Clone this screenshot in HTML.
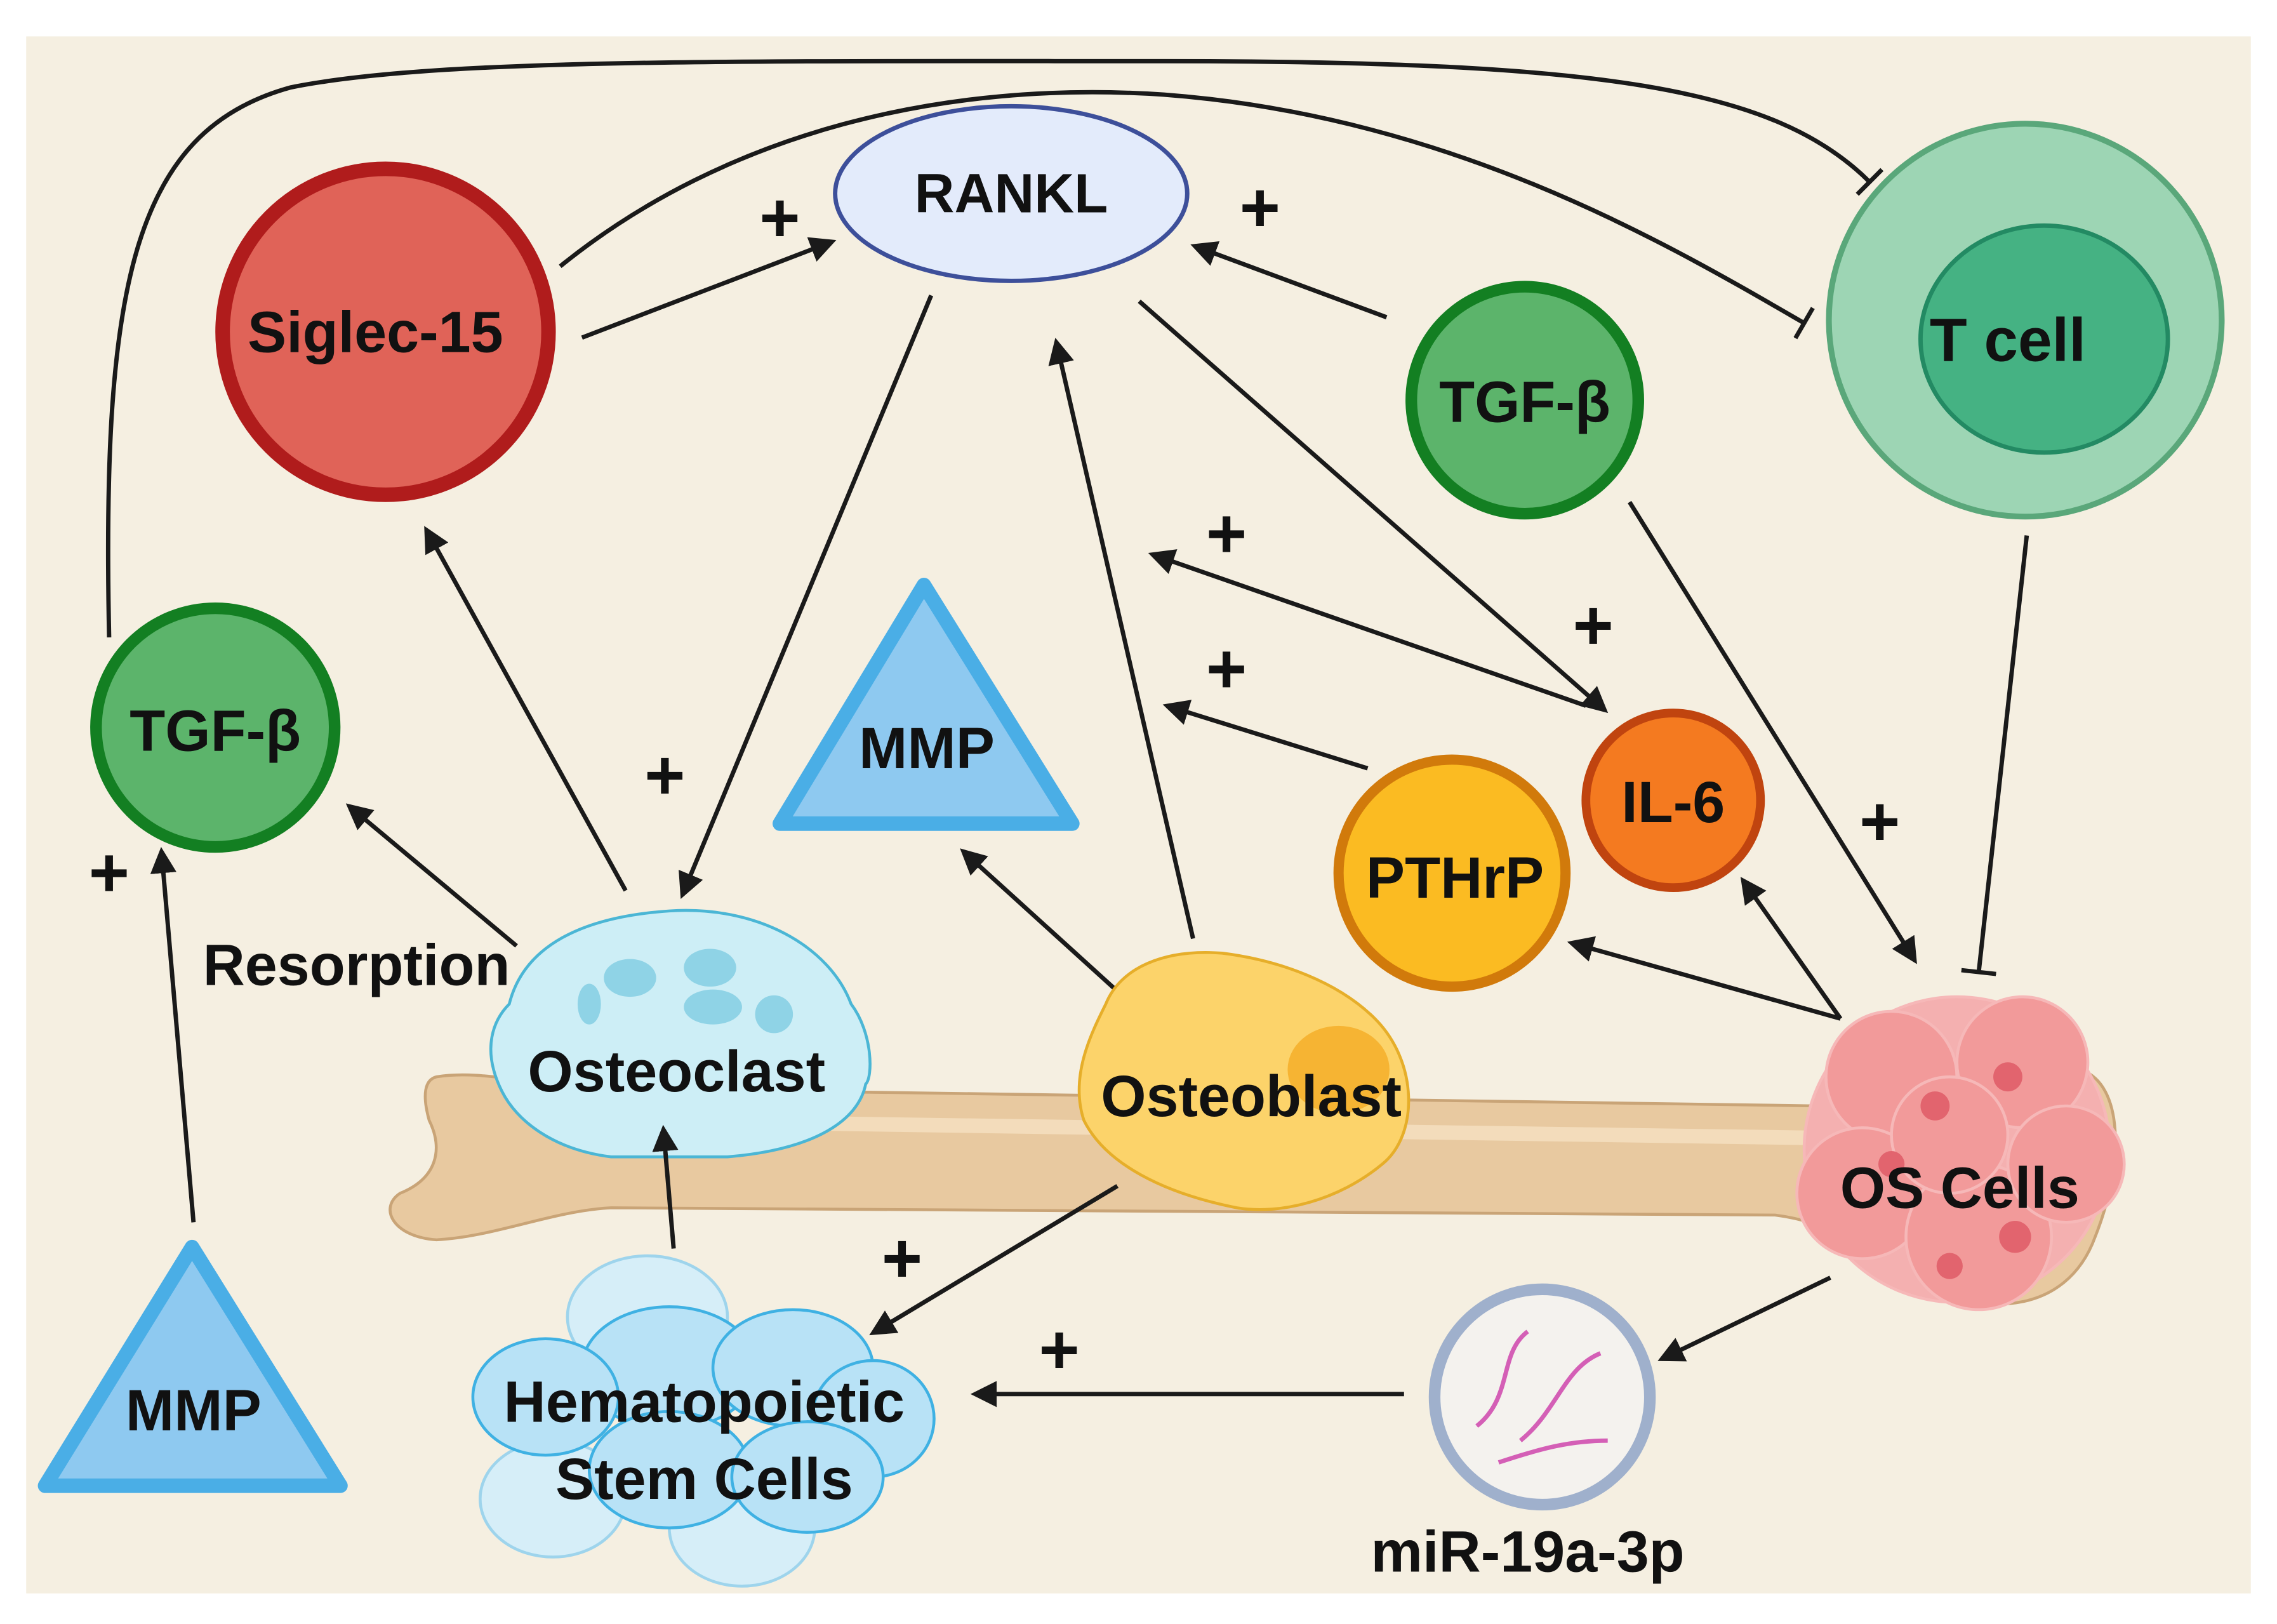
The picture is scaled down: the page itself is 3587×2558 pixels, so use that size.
<!DOCTYPE html>
<html><head><meta charset="utf-8"><style>
html,body{margin:0;padding:0;background:#fff}
svg{display:block}
text{font-family:"Liberation Sans",sans-serif;font-weight:bold;fill:#111}
</style></head><body>
<svg width="3587" height="2558" viewBox="0 0 1565 1116" xmlns="http://www.w3.org/2000/svg">
<defs>
<marker id="ah" markerWidth="6" markerHeight="6" refX="5" refY="3" orient="auto" markerUnits="strokeWidth">
<path d="M0,0 L6,3 L0,6 z" fill="#1a1a1a"/></marker>
<marker id="tee" markerWidth="2" markerHeight="8" refX="1" refY="4" orient="auto" markerUnits="strokeWidth">
<path d="M1,0 L1,8" stroke="#1a1a1a" stroke-width="1"/></marker>
</defs>
<rect x="0" y="0" width="1565" height="1116" fill="#fff"/>
<rect x="18" y="25" width="1529" height="1070" fill="#f5efe1"/>

<!-- bone -->
<path d="M300,740 C330,735 360,745 420,748 L1250,760 C1300,755 1380,730 1430,735 C1460,745 1460,800 1440,850 C1420,905 1360,905 1320,880 C1290,860 1260,840 1220,835 L420,830 C380,832 340,850 300,852 C270,850 260,830 275,820 C300,810 305,790 295,770 C290,752 292,742 300,740 Z" fill="#e8c9a0" stroke="#c9a477" stroke-width="2"/>
<path d="M420,770 L1250,782" stroke="#f3dcbb" stroke-width="10" fill="none"/>

<!-- connectors -->
<g stroke="#1a1a1a" stroke-width="3" fill="none">
<path d="M75,438 C70,200 90,90 200,60 C300,40 500,42 800,42 C1100,42 1220,60 1285,125" marker-end="url(#tee)"/>
<path d="M385,183 C500,90 650,55 800,65 C1000,80 1150,170 1240,222" marker-end="url(#tee)"/>
<line x1="400" y1="232" x2="572" y2="166" marker-end="url(#ah)"/>
<line x1="953" y1="218" x2="821" y2="169" marker-end="url(#ah)"/>
<line x1="640" y1="203" x2="469" y2="615" marker-end="url(#ah)"/>
<line x1="783" y1="207" x2="1103" y2="488" marker-end="url(#ah)"/>
<line x1="820" y1="645" x2="726" y2="235" marker-end="url(#ah)"/>
<line x1="1090" y1="485" x2="792" y2="381" marker-end="url(#ah)"/>
<line x1="940" y1="528" x2="802" y2="485" marker-end="url(#ah)"/>
<line x1="1120" y1="345" x2="1316" y2="660" marker-end="url(#ah)"/>
<line x1="1393" y1="368" x2="1360" y2="668" marker-end="url(#tee)"/>
<line x1="1265" y1="700" x2="1080" y2="648" marker-end="url(#ah)"/>
<line x1="1265" y1="700" x2="1198" y2="605" marker-end="url(#ah)"/>
<line x1="430" y1="612" x2="293" y2="364" marker-end="url(#ah)"/>
<line x1="355" y1="650" x2="240" y2="554" marker-end="url(#ah)"/>
<line x1="770" y1="683" x2="662" y2="585" marker-end="url(#ah)"/>
<line x1="133" y1="840" x2="111" y2="585" marker-end="url(#ah)"/>
<line x1="768" y1="815" x2="600" y2="916" marker-end="url(#ah)"/>
<line x1="1258" y1="878" x2="1142" y2="934" marker-end="url(#ah)"/>
<line x1="965" y1="958" x2="670" y2="958" marker-end="url(#ah)"/>
</g>

<!-- RANKL -->
<ellipse cx="695" cy="133" rx="121" ry="60" fill="#e3ebfb" stroke="#3d4f9a" stroke-width="3"/>
<text x="695" y="146" font-size="38" text-anchor="middle">RANKL</text>
<!-- Siglec -->
<circle cx="265" cy="228" r="112" fill="#e06358" stroke="#b01c1c" stroke-width="10"/>
<text x="258" y="242" font-size="40" text-anchor="middle">Siglec-15</text>
<!-- TGF right -->
<circle cx="1048" cy="275" r="78" fill="#5cb46b" stroke="#137f22" stroke-width="8"/>
<text x="1048" y="290" font-size="40" text-anchor="middle">TGF-β</text>
<!-- T cell -->
<circle cx="1392" cy="220" r="135" fill="#9dd5b4" stroke="#5aa77a" stroke-width="4"/>
<ellipse cx="1405" cy="233" rx="85" ry="78" fill="#45b283" stroke="#238a63" stroke-width="3"/>
<text x="1380" y="248" font-size="42" text-anchor="middle">T cell</text>
<!-- TGF left -->
<circle cx="148" cy="500" r="82" fill="#5cb46b" stroke="#137f22" stroke-width="8"/>
<text x="148" y="516" font-size="40" text-anchor="middle">TGF-β</text>
<!-- MMP mid -->
<path d="M635,402 L536,566 L737,566 Z" fill="#8ec9f0" stroke="#4aaee6" stroke-width="10" stroke-linejoin="round"/>
<text x="637" y="528" font-size="40" text-anchor="middle">MMP</text>
<!-- MMP bottom -->
<path d="M132,857 L31,1021 L234,1021 Z" fill="#8ec9f0" stroke="#4aaee6" stroke-width="10" stroke-linejoin="round"/>
<text x="133" y="983" font-size="40" text-anchor="middle">MMP</text>
<!-- PTHrP -->
<circle cx="998" cy="600" r="78" fill="#fbbb22" stroke="#d17a0b" stroke-width="7"/>
<text x="1000" y="617" font-size="40" text-anchor="middle">PTHrP</text>
<!-- IL-6 -->
<circle cx="1150" cy="550" r="60" fill="#f47a20" stroke="#c0440f" stroke-width="6"/>
<text x="1150" y="565" font-size="40" text-anchor="middle">IL-6</text>

<!-- Osteoclast -->
<path d="M350,690 C360,650 400,630 460,626 C520,622 570,650 585,690 C600,710 600,740 595,745 C590,770 560,790 500,795 L420,795 C380,790 355,770 345,750 C330,720 340,700 350,690 Z" fill="#cdeef6" stroke="#4bb6d5" stroke-width="2"/>
<ellipse cx="433" cy="672" rx="18" ry="13" fill="#8fd3e6"/>
<ellipse cx="488" cy="665" rx="18" ry="13" fill="#8fd3e6"/>
<ellipse cx="490" cy="692" rx="20" ry="12" fill="#8fd3e6"/>
<ellipse cx="532" cy="697" rx="13" ry="13" fill="#8fd3e6"/>
<ellipse cx="405" cy="690" rx="8" ry="14" fill="#8fd3e6"/>
<text x="465" y="750" font-size="40" text-anchor="middle">Osteoclast</text>

<!-- Osteoblast -->
<path d="M760,690 C770,665 800,652 840,655 C880,660 920,675 945,700 C975,730 975,780 950,800 C920,825 880,835 850,830 C800,820 760,800 745,770 C735,740 750,710 760,690 Z" fill="#fcd36a" stroke="#e6ae2a" stroke-width="2"/>
<ellipse cx="920" cy="735" rx="35" ry="30" fill="#f6b433"/>
<text x="860" y="767" font-size="40" text-anchor="middle">Osteoblast</text>

<!-- OS cells -->
<g fill="#f29a9a" stroke="#f6b8b8" stroke-width="2">
<circle cx="1345" cy="790" r="105" fill="#f4b0b0"/>
<circle cx="1300" cy="740" r="45"/><circle cx="1390" cy="730" r="45"/>
<circle cx="1280" cy="820" r="45"/><circle cx="1360" cy="850" r="50"/>
<circle cx="1420" cy="800" r="40"/><circle cx="1340" cy="780" r="40"/>
</g>
<g fill="#e2646e"><circle cx="1330" cy="760" r="10"/><circle cx="1380" cy="740" r="10"/><circle cx="1300" cy="800" r="9"/><circle cx="1385" cy="850" r="11"/><circle cx="1340" cy="870" r="9"/></g>
<text x="1347" y="830" font-size="40" text-anchor="middle">OS Cells</text>

<!-- HSC -->
<g fill="#b8e2f6" stroke="#3fb1e3" stroke-width="2">
<ellipse cx="445" cy="905" rx="55" ry="42" fill="#d6eef8" stroke="#9ed4ec"/>
<ellipse cx="510" cy="1050" rx="50" ry="40" fill="#d6eef8" stroke="#9ed4ec"/>
<ellipse cx="380" cy="1030" rx="50" ry="40" fill="#d6eef8" stroke="#9ed4ec"/>
<ellipse cx="460" cy="940" rx="60" ry="42"/>
<ellipse cx="545" cy="940" rx="55" ry="40"/>
<ellipse cx="375" cy="960" rx="50" ry="40"/>
<ellipse cx="600" cy="975" rx="42" ry="40"/>
<ellipse cx="460" cy="1010" rx="55" ry="40"/>
<ellipse cx="555" cy="1015" rx="52" ry="38"/>
</g>
<text x="484" y="977" font-size="40" text-anchor="middle">Hematopoietic</text>
<text x="484" y="1030" font-size="40" text-anchor="middle">Stem Cells</text>

<line x1="463" y1="858" x2="456" y2="776" stroke="#1a1a1a" stroke-width="3" marker-end="url(#ah)"/>

<!-- miR -->
<circle cx="1060" cy="960" r="74" fill="#f4f2ee" stroke="#9fb0cc" stroke-width="8"/>
<g stroke="#d45fb6" stroke-width="3" fill="none">
<path d="M1015,980 C1040,960 1030,930 1050,915"/>
<path d="M1045,990 C1070,970 1075,940 1100,930"/>
<path d="M1030,1005 C1060,995 1080,990 1105,990"/>
</g>
<text x="1050" y="1080" font-size="40" text-anchor="middle">miR-19a-3p</text>

<text x="245" y="677" font-size="40" text-anchor="middle">Resorption</text>

<g font-size="48" text-anchor="middle">
<text x="536" y="166">+</text><text x="866" y="159">+</text>
<text x="843" y="383">+</text><text x="1095" y="446">+</text>
<text x="843" y="476">+</text><text x="457" y="549">+</text>
<text x="1292" y="581">+</text><text x="75" y="616">+</text>
<text x="620" y="881">+</text><text x="728" y="944">+</text>
</g>
</svg>
</body></html>
